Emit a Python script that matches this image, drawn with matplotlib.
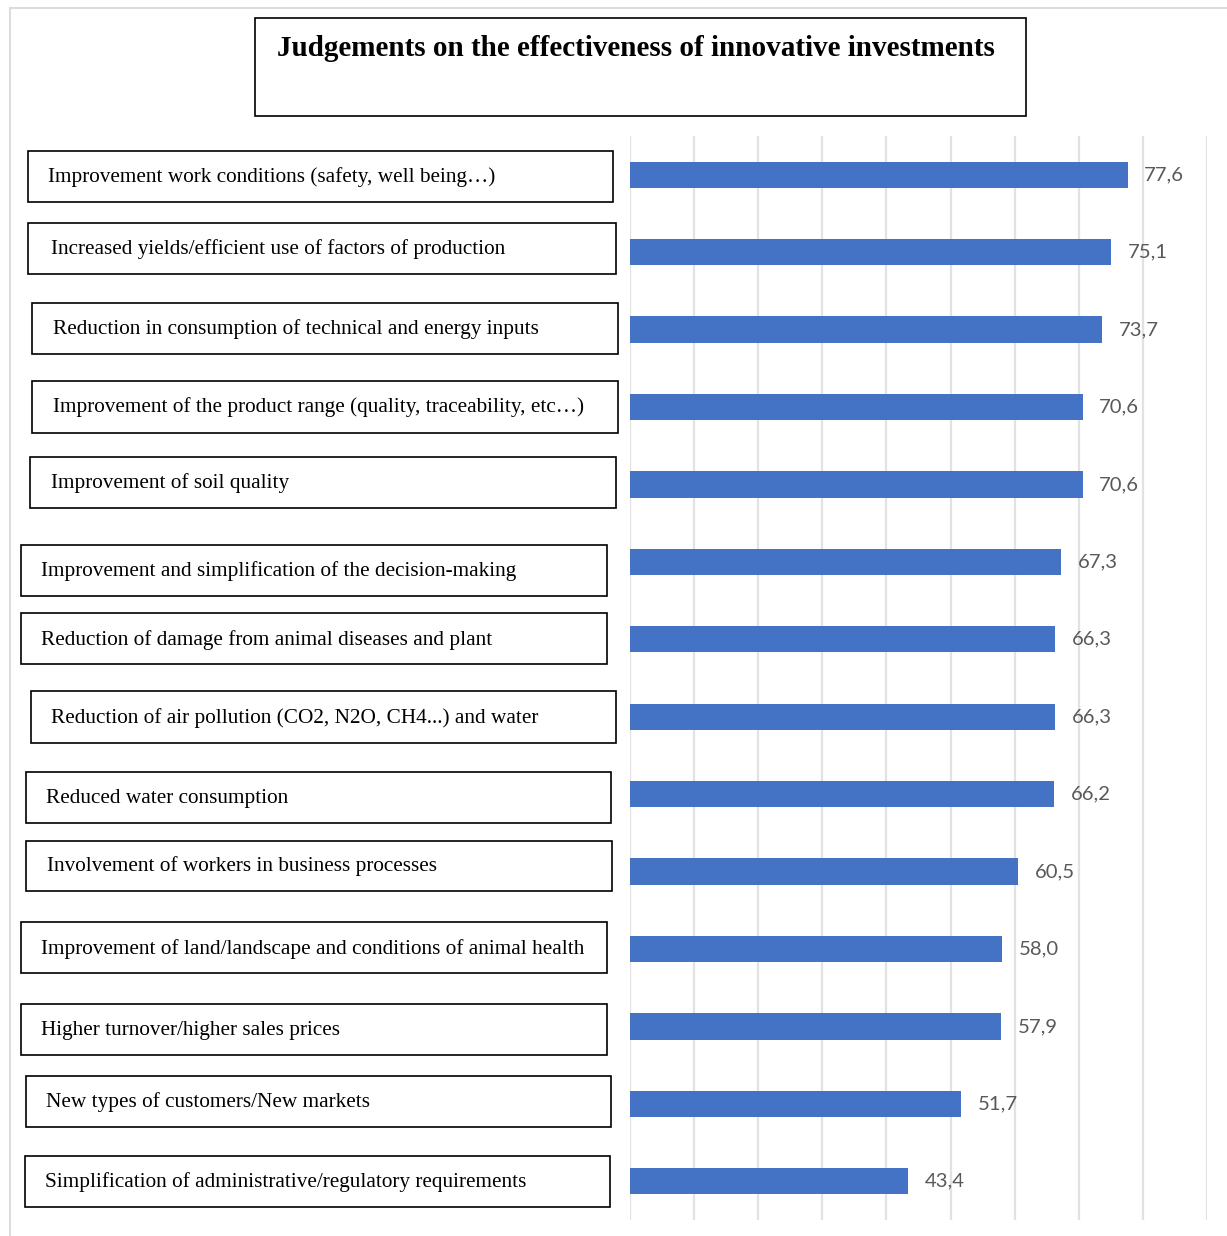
import matplotlib
matplotlib.use("Agg")
import matplotlib.pyplot as plt
from matplotlib.patches import Rectangle
from matplotlib.lines import Line2D

# ---------------- data ----------------
title = "Judgements on the effectiveness of innovative investments"
categories = [
    "Improvement work conditions (safety, well being…)",
    "Increased yields/efficient use of factors of production",
    "Reduction in consumption of technical and energy inputs",
    "Improvement of the product range (quality, traceability, etc…)",
    "Improvement of soil quality",
    "Improvement and simplification of the decision-making",
    "Reduction of damage from animal diseases and plant",
    "Reduction of air pollution (CO2, N2O, CH4...) and water",
    "Reduced water consumption",
    "Involvement of workers in business processes",
    "Improvement of land/landscape and conditions of animal health",
    "Higher turnover/higher sales prices",
    "New types of customers/New markets",
    "Simplification of administrative/regulatory requirements",
]
values = [77.6, 75.1, 73.7, 70.6, 70.6, 67.3, 66.3, 66.3, 66.2, 60.5, 58.0, 57.9, 51.7, 43.4]
value_labels = ["77,6", "75,1", "73,7", "70,6", "70,6", "67,3", "66,3", "66,3",
                "66,2", "60,5", "58,0", "57,9", "51,7", "43,4"]
grid_ticks = [0, 10, 20, 30, 40, 50, 60, 70, 80, 90]

# ---------------- layout (pixels) ----------------
W, H = 1227, 1236
# label boxes: (x0, x1, y_top, y_bottom, text_x, text_y)
box_layout = [
    (28, 613, 151, 202, 48, 177),
    (28, 616, 223, 274, 51, 249),
    (32, 618, 303, 354, 53, 329),
    (32, 618, 381, 433, 53, 407),
    (30, 616, 457, 508, 51, 483),
    (21, 607, 545, 596, 41, 571),
    (21, 607, 613, 664, 41, 640),
    (31, 616, 691, 743, 51, 718),
    (26, 611, 772, 823, 46, 798),
    (26, 612, 841, 891, 47, 866),
    (21, 607, 922, 973, 41, 949),
    (21, 607, 1004, 1055, 41, 1030),
    (26, 611, 1076, 1127, 46, 1102),
    (25, 610, 1156, 1207, 45, 1182),
]

fig = plt.figure(figsize=(W / 100, H / 100), dpi=100)
fig.patch.set_facecolor("white")

def fx(x):
    return x / W

def fy(y):
    return 1 - y / H

# outer light frame
frame_c = "#dcdcdc"
fig.add_artist(Line2D([fx(10), fx(1227)], [fy(8), fy(8)], color=frame_c, lw=1.5))
fig.add_artist(Line2D([fx(10), fx(10)], [fy(8), fy(1236)], color=frame_c, lw=1.5))

# bar axes
ax_left, ax_right, ax_top, ax_bot = 630, 1207, 136, 1220
ax = fig.add_axes([fx(ax_left), fy(ax_bot), (ax_right - ax_left) / W, (ax_bot - ax_top) / H])
ypos = list(range(len(values)))
ax.barh(ypos, values, height=0.34, color="#4472C4", zorder=3)
ax.set_xlim(0, 90)
ax.set_ylim(len(values) - 0.5, -0.5)
ax.set_xticks(grid_ticks)
ax.set_yticks([])
ax.tick_params(axis="x", length=0, labelbottom=False)
ax.grid(axis="x", color="#e2e2e2", lw=1.6, zorder=0)
for s in ax.spines.values():
    s.set_visible(False)
ax.set_facecolor("none")

for y, v, lab in zip(ypos, values, value_labels):
    ax.annotate(lab, (v, y), xytext=(12, 0), textcoords="offset points",
                ha="left", va="center", fontsize=14.6, color="#595959",
                family="Lato", annotation_clip=False)

# title box
fig.add_artist(Rectangle((fx(255), fy(116)), fx(1026) - fx(255), fy(18) - fy(116),
                         transform=fig.transFigure, fill=False, ec="black", lw=1.2))
fig.text(fx(636), fy(49), title, ha="center", va="center", fontsize=21,
         fontweight="bold", family="Liberation Serif", color="black")

# label boxes
for cat, (x0, x1, yt, yb, tx, ty) in zip(categories, box_layout):
    fig.add_artist(Rectangle((fx(x0), fy(yb)), fx(x1) - fx(x0), fy(yt) - fy(yb),
                             transform=fig.transFigure, fill=False, ec="black", lw=1.2))
    fig.text(fx(tx), fy(ty), cat, ha="left", va="center", fontsize=15.3,
             family="Liberation Serif", color="black")

fig.savefig("out.png", dpi=100)
